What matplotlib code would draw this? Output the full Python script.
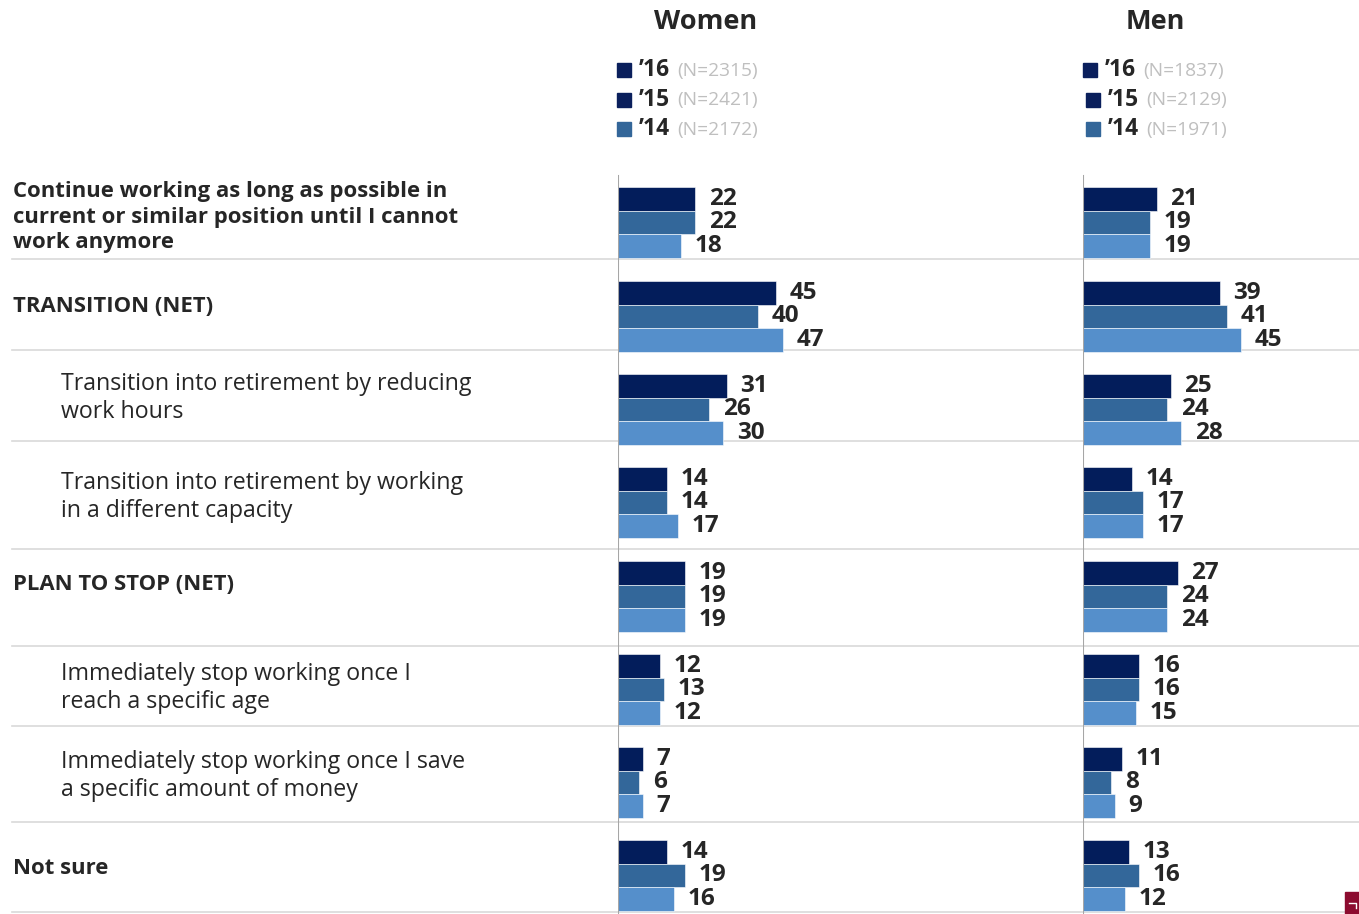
import matplotlib
matplotlib.use("Agg")
import matplotlib.pyplot as plt
from matplotlib.patches import Rectangle

plt.rcParams['font.family'] = ['Open Sans', 'DejaVu Sans']

# ---- data ----
categories = [
    "Continue working as long as possible in\ncurrent or similar position until I cannot\nwork anymore",
    "TRANSITION (NET)",
    "Transition into retirement by reducing\nwork hours",
    "Transition into retirement by working\nin a different capacity",
    "PLAN TO STOP (NET)",
    "Immediately stop working once I\nreach a specific age",
    "Immediately stop working once I save\na specific amount of money",
    "Not sure",
]
is_net = [True, True, False, False, True, False, False, True]

years = ["’16", "’15", "’14"]
women_n = ["(N=2315)", "(N=2421)", "(N=2172)"]
men_n = ["(N=1837)", "(N=2129)", "(N=1971)"]

women_16 = [22, 45, 31, 14, 19, 12, 7, 14]
women_15 = [22, 40, 26, 14, 19, 13, 6, 19]
women_14 = [18, 47, 30, 17, 19, 12, 7, 16]
men_16 = [21, 39, 25, 14, 27, 16, 11, 13]
men_15 = [19, 41, 24, 17, 24, 16, 8, 16]
men_14 = [19, 45, 28, 17, 24, 15, 9, 12]

# ---- styling / layout ----
W, H = 1359, 914
bar_colors = ["#031d5b", "#33679a", "#558fcb"]
legend_colors = ["#0a1f5c", "#0a1f5c", "#336699"]
text_dark = "#262626"
grid_gray = "#d9d9d9"
axis_gray = "#a6a6a6"

group_tops = [187, 281, 374, 467, 561, 654, 747, 840]
label_centers = [217, 306, 398, 497, 585, 688, 776, 869]
separators = [259, 350, 441, 549, 646, 726, 822, 912]
bar_h = 23.6
px_per_unit = 3.5

fig = plt.figure(figsize=(W / 100, H / 100), dpi=100)
bg = fig.add_axes([0, 0, 1, 1])
bg.set_xlim(0, W)
bg.set_ylim(H, 0)
bg.axis("off")

# row separators
for y in separators:
    bg.plot([12, W], [y, y], color=grid_gray, lw=1.2, zorder=1)

# category labels
for cat, net, yc in zip(categories, is_net, label_centers):
    bg.text(13 if net else 61, yc, cat, ha="left", va="center",
            fontsize=15.9 if net else 16.7, fontweight="bold" if net else "normal",
            color=text_dark, linespacing=1.27 if net else 1.19)


def panel(x0, title, title_x, series, n_labels, legend_xs):
    ax = fig.add_axes([x0 / W, 0, 60 * px_per_unit / W, 1])
    ax.set_xlim(0, 60)
    ax.set_ylim(H, 0)
    ax.axis("off")
    ax.plot([0, 0], [176, H], color=axis_gray, lw=1.5, zorder=3)
    for k, vals in enumerate(series):
        ys = [t + k * bar_h for t in group_tops]
        ax.barh(ys, vals, height=bar_h, align="edge", color=bar_colors[k],
                edgecolor="white", linewidth=0.4, zorder=2)
        for v, y in zip(vals, ys):
            ax.annotate(str(v), (v, y + bar_h / 2), xytext=(14, 0),
                        textcoords="offset pixels", ha="left", va="center",
                        fontsize=17.5, fontweight="bold", color=text_dark)
    bg.text(title_x, 22, title, ha="center", va="center", fontsize=19.5,
            fontweight="bold", color=text_dark)
    for k, (yr, nl, lx) in enumerate(zip(years, n_labels, legend_xs)):
        yc = 70 + k * 29.5
        bg.add_patch(Rectangle((lx, yc - 7), 14, 14, color=legend_colors[k]))
        bg.text(lx + 22, yc, yr, ha="left", va="center", fontsize=16.5,
                fontweight="bold", color=text_dark)
        bg.text(lx + 60, yc + 1, nl, ha="left", va="center", fontsize=13.8,
                color="#bfbfbf")


panel(618, "Women", 706, [women_16, women_15, women_14], women_n, [617, 617, 617])
panel(1083, "Men", 1155, [men_16, men_15, men_14], men_n, [1083, 1086, 1086])

# corner mark
bg.add_patch(Rectangle((1345, 892), 14, 22, color="#8c0b2f", zorder=4))
bg.plot([1349, 1356, 1356], [903, 903, 908], color="white", lw=1, zorder=5)

fig.savefig("out.png", dpi=100)
